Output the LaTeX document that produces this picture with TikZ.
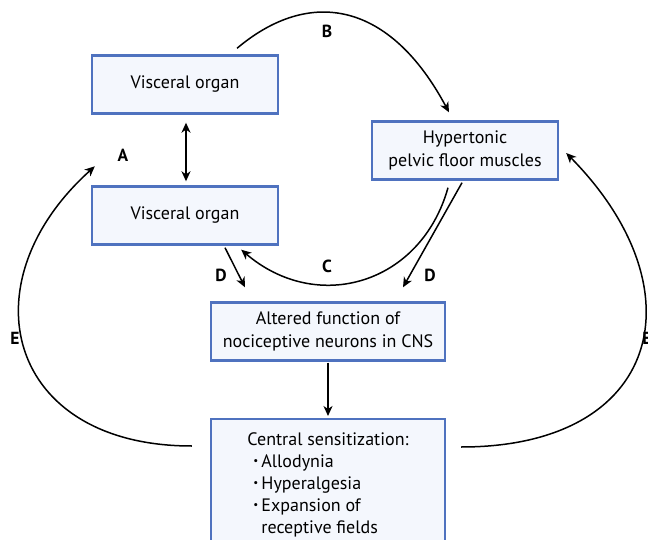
\documentclass[tikz,border=0pt]{standalone}
\usepackage{fontspec}
\setmainfont{PT Sans}
\usetikzlibrary{arrows.meta,calc}
\definecolor{boxblue}{RGB}{79,114,191}
\definecolor{boxfill}{RGB}{244,247,253}
\newcommand{\smbul}{\raisebox{0.25ex}{\fontsize{11}{11}\selectfont\textbullet}}
\begin{document}
\begin{tikzpicture}[x=1pt,y=-1pt,
 box/.style={draw=boxblue,fill=boxfill,line width=2.4pt,minimum width=186pt,minimum height=58pt,align=center,font=\fontsize{18}{23}\selectfont,inner sep=0pt},
 arr/.style={line width=1.5pt,-{Stealth[length=10pt,width=9pt,inset=3pt]}},
 darr/.style={line width=1.5pt,{Stealth[length=10pt,width=9pt,inset=3pt]}-{Stealth[length=10pt,width=9pt,inset=3pt]}},
 lbl/.style={font=\fontsize{17.5}{17.5}\selectfont\bfseries}]
\useasboundingbox (0,0) rectangle (648,540);
\node[box] (vo1) at (185,84.5) {Visceral organ};
\node[box] (vo2) at (185,215.5) {Visceral organ};
\node[box] (hyp) at (465,150.5) {Hypertonic\\pelvic floor muscles};
\node[box,minimum width=234pt] (alt) at (328,331.5) {Altered function of\\nociceptive neurons in CNS};
\node[box,minimum width=234pt,anchor=north,align=left,inner ysep=13pt,font=\fontsize{18}{22}\selectfont] (cen) at (328,418)
 {Central sensitization:\\
  \hspace*{6pt}\smbul\,Allodynia\\
  \hspace*{6pt}\smbul\,Hyperalgesia\\
  \hspace*{6pt}\smbul\,Expansion of\\
  \hspace*{14pt}receptive fields};
% connectors
\draw[darr] ($(vo1.south)+(1,8)$) -- ($(vo2.north)+(1,-4)$);
\draw[arr] ($(alt.south)+(0,1)$) -- ($(cen.north)+(0,-2)$);
\draw[arr] ($(vo1.north)+(52,-6)$) .. controls +(73,-61.5) and +(-59,-110.5) .. ($(hyp.north)+(-16,-8)$);
\draw[arr] ($(hyp.south)+(-17,7)$) .. controls +(-27,96.5) and +(76,65) .. ($(vo2.south east)+(-38,4)$);
\draw[arr] ($(cen.north west)+(-18,28)$) .. controls +(-185,0) and +(-130,117) .. ($(vo2.north west)+(4,-19)$);
\draw[arr] ($(cen.north east)+(15,29)$) .. controls +(200,0) and +(135,137) .. ($(hyp.east)+(7,2.5)$);
\draw[arr] ($(vo2.south)+(40,2)$) -- ($(alt.north)+(-83,-14)$);
\draw[arr] ($(hyp.south)+(-3,2)$) -- ($(alt.north)+(75,-14)$);
% labels
\node[lbl] (la) at (123,155) {A};
\node[lbl] (lb) at (327,31) {B};
\node[lbl] (lc) at (327,266) {C};
\node[lbl] (ld1) at (221,275) {D};
\node[lbl] (ld2) at (430,275) {D};
\node[lbl] (le1) at (15,338) {E};
\node[lbl] (le2) at (647,338) {E};
\end{tikzpicture}
\end{document}
